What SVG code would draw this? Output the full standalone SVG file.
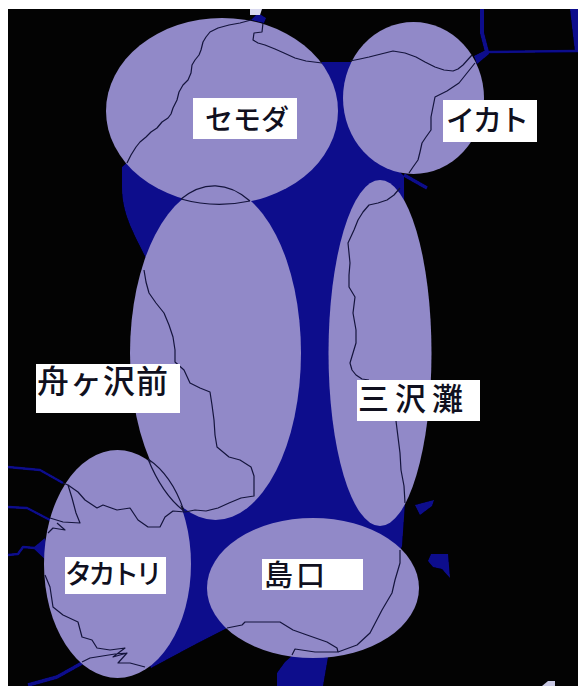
<svg xmlns="http://www.w3.org/2000/svg" width="578" height="686" viewBox="0 0 578 686">
<style>
.zone{fill:#9189c8}
.sea{fill:#0a0a8c}
.river{fill:none;stroke:#0a0a8c;stroke-width:2.5;stroke-linejoin:round}
.coast{fill:none;stroke:#14143c;stroke-width:1.2;stroke-linejoin:round}
.lab{fill:#fff}
text{font-family:"Noto Sans CJK JP","Noto Sans",sans-serif;fill:#10101e;font-weight:500}
</style>
<defs><filter id="soft" x="-5%" y="-5%" width="110%" height="110%"><feGaussianBlur stdDeviation="0.6"/></filter></defs>
<rect width="578" height="686" fill="#fff"/>
<rect x="8" y="9" width="570" height="677" fill="#030303"/>
<g id="sea" filter="url(#soft)">
<path class="sea" d="M322 62L352 62L400 172L404 176L405 503L402 546L380 600L227 628L192 646L151 668L120 600L120 480L184 511L146 258C135 235 122 215 122 187L122 167L200 100Z"/>
<path class="sea" d="M293 655L328 657L323 686L277 686L277 673L285 662Z"/>
<path class="sea" d="M415 505L434 500L432 506L420 515Z"/>
<path class="sea" d="M428 561L431 554L448 554L450 578L442 569L433 567Z"/>
<path class="sea" d="M251 20L258 13L266 18L264 23Z"/>
<path class="sea" d="M33 548L45 538L50 564Z"/>
<path class="sea" d="M474 56L488 49L489 54L477 64Z"/>
<path class="sea" d="M570 9L578 9L578 52L575 52Z"/>
<path d="M250 9H262L260 15H250Z" fill="#d8d8ee"/>
<path d="M542 686L548 681L555 681L555 686Z" fill="#c8c8e4"/>
<path class="river" style="stroke-width:4" d="M482 9L482 33L487 52"/>
<path class="river" d="M487 52L578 51M8 555L18 554L23 547L35 548M8 507L27 508L50 520"/>
<path class="river" d="M8 467L40 470L63 483"/>
<path class="river" style="stroke-width:3.5" d="M28 685L57 677L82 663M404 175L427 188"/>
</g>
<g id="node-funagasawamae"><ellipse class="zone" cx="215.5" cy="353" rx="85.5" ry="167"/></g>
<g id="node-semoda"><ellipse class="zone" cx="222" cy="111" rx="116" ry="93"/></g>
<g id="node-ikato"><ellipse class="zone" cx="413.5" cy="98" rx="70.5" ry="76"/></g>
<g id="node-misawanada"><ellipse class="zone" cx="380" cy="353" rx="51.5" ry="173"/></g>
<g id="node-takatori"><ellipse class="zone" cx="117.5" cy="564" rx="73.5" ry="114"/></g>
<g id="node-shimaguchi"><ellipse class="zone" cx="313" cy="588" rx="106" ry="70"/></g>
<g id="connectors">
<path class="coast" d="M251 20L240 23L229 25L218 28L210 32L206 37L203 42L201 50L199 55L195 60L192 65L191 73L188 80L183 85L179 92L177 100L173 108L171 114L168 118L162 122L157 128L151 132L146 137L140 142L136 147L131 155L127 163"/>
<path class="coast" d="M263 23L262 32L254 33L253 40L258 43L265 45L275 49L284 53L295 58L306 61L322 63"/>
<path class="coast" d="M350 61L360 59L369 57L381 54L393 51L405 53L416 57L425 62L435 67L444 70L453 71L458 69L463 65L472 55"/>
<path class="coast" d="M475 63L467 73L459 83L447 91L435 97L433 107L431 117L431 130L426 137L422 143L420 152L418 160L413 167L409 173"/>
<path class="coast" d="M400 188L394 195L387 200L378 203L369 205L363 212L358 220L354 230L348 243L349 253L350 263L349 275L349 287L355 297L353 313L356 330L356 343L353 353L350 363L352 370L356 375L362 379L369 380"/>
<path class="coast" d="M396 421L398 437L400 453L401 470L404 486L405 503"/>
<path class="coast" d="M400 550L400 563L395 580L392 593L382 610L370 633L357 645L338 652"/>
<path class="coast" d="M144 270L146 282L149 293L156 303L164 313L169 325L173 337L175 350L175 362L184 370L190 383L200 388L210 392L212 405L214 420L215 435L217 447L229 457L240 460L251 467L254 476L254 496L241 498L229 503L218 508L206 511L195 510L185 512"/>
<path class="coast" d="M63 483L68 485L78 492L85 500L97 508L103 505L117 510L130 508L138 520L148 527L160 527L165 517L173 511L185 512"/>
<path class="coast" d="M68 485L72 498L76 513L80 523L63 522L50 518M48 533L53 528L65 530L57 523"/>
<path class="coast" d="M45 575L50 587L53 607L63 615L78 622L82 637L92 640L97 648L110 650L125 648L113 657L127 653L118 663L130 663L145 667M82 662L90 658L115 654L127 653"/>
<path class="coast" d="M227 628L242 625L245 622L280 622L293 630L307 635L327 642L337 648L338 652L315 652L295 649L292 655"/>
<path class="coast" d="M181 199A85.5 167 0 0 1 250 201M181 199A116 93 0 0 0 250 201"/>
<path class="coast" d="M148 459A85.5 167 0 0 0 184 511M148 459A73.5 114 0 0 1 184 511"/>
</g>
<g id="label-semoda"><rect class="lab" x="193" y="98" width="104" height="41"/><text x="205" y="130" font-size="28">セモダ</text></g>
<g id="label-ikato"><rect class="lab" x="443" y="100" width="94" height="42"/><text x="446" y="131" font-size="29" letter-spacing="-2">イカト</text></g>
<g id="label-funagasawamae"><rect class="lab" x="36" y="364" width="144" height="49"/><text x="37" y="393" font-size="32" letter-spacing="1">舟ヶ沢前</text></g>
<g id="label-misawanada"><rect class="lab" x="357" y="380" width="123" height="41"/><text x="358" y="410" font-size="31" letter-spacing="6">三沢灘</text></g>
<g id="label-takatori"><rect class="lab" x="65" y="557" width="101" height="37"/><text x="65" y="584" font-size="27" letter-spacing="-3.5">タカトリ</text></g>
<g id="label-shimaguchi"><rect class="lab" x="262" y="559" width="101" height="31"/><text x="264" y="586" font-size="29" letter-spacing="3">島口</text></g>
</svg>
